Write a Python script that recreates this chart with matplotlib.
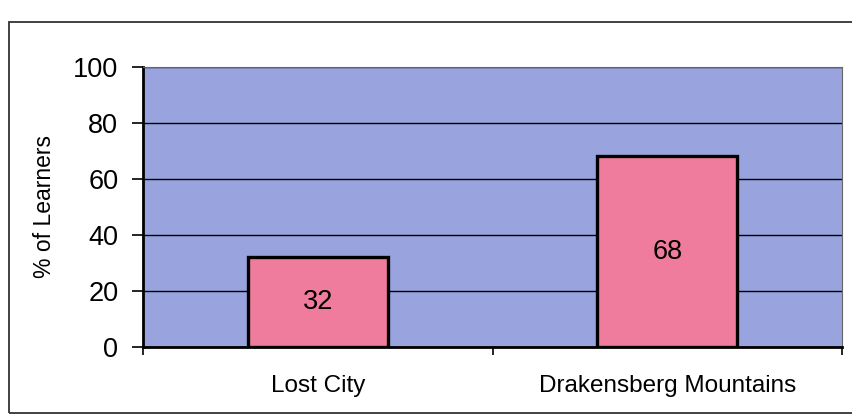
import matplotlib.pyplot as plt
from matplotlib.patches import Rectangle

# data
places = ["Lost City", "Drakensberg Mountains"]
learners = [32, 68]
y_ticks = [0, 20, 40, 60, 80, 100]

plt.rcParams['font.family'] = ['Liberation Sans', 'DejaVu Sans']

fig = plt.figure(figsize=(8.53, 4.18), dpi=100)
fig.patch.set_facecolor('white')

# outer chart border (runs off the right edge in the scan)
fig.patches.append(Rectangle((0.010, 0.012), 1.05, 0.935, transform=fig.transFigure,
                             fill=False, edgecolor='#333333', linewidth=1.3))

ax = fig.add_axes([0.168, 0.170, 0.819, 0.670])
ax.set_facecolor('#99A4DF')

x = range(len(places))
bars = ax.bar(x, learners, width=0.4, color='#F07C9D', edgecolor='black',
              linewidth=2.4, zorder=3)
ax.bar_label(bars, labels=[str(v) for v in learners], label_type='center',
             fontsize=19.5, zorder=4)

ax.set_ylim(0, 100)
ax.set_xlim(-0.5, 1.5)
ax.set_yticks(y_ticks)
ax.set_yticklabels([str(t) for t in y_ticks], fontsize=19.5)
ax.yaxis.grid(True, color='black', linewidth=1.0, zorder=1)
ax.set_axisbelow(True)

ax.set_xticks(list(x))
ax.set_xticklabels(places, fontsize=17.5)
ax.tick_params(axis='x', which='major', length=0, pad=20)
ax.set_xticks([-0.5, 0.5, 1.5], minor=True)
ax.tick_params(axis='x', which='minor', length=6, width=1.2, direction='out')
ax.tick_params(axis='y', length=8, width=1.2, pad=10)

ax.set_ylabel("% of Learners", fontsize=16.5, labelpad=12)

ax.spines['left'].set_linewidth(2)
ax.spines['bottom'].set_linewidth(2)
ax.spines['top'].set_color('#666666')
ax.spines['right'].set_color('#666666')

fig.savefig('out.png', dpi=100)
